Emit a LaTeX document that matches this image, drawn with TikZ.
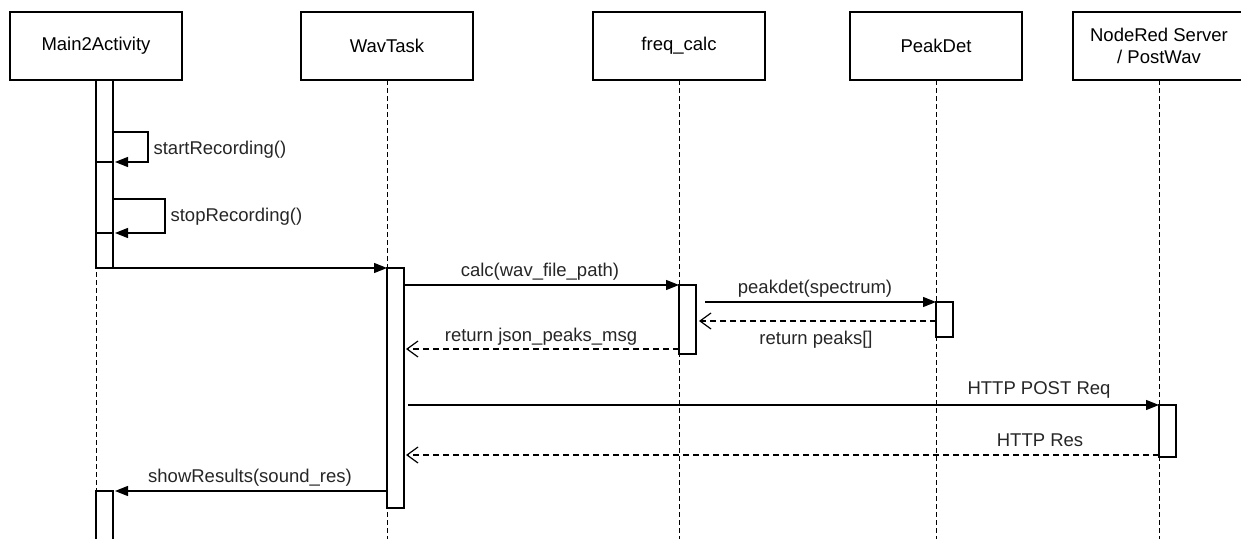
\documentclass[tikz,border=0pt]{standalone}
\usepackage{fontspec}
\setmainfont{Liberation Sans}
\usetikzlibrary{arrows.meta,calc}

\begin{document}
\begin{tikzpicture}[x=1pt,y=-1pt,
  font=\fontsize{18.5}{22}\selectfont,
  line width=1.2pt,
  actor/.style={draw, fill=white, minimum width=172pt, minimum height=68pt,
    align=center, inner sep=0pt, outer sep=0pt},
  act/.style={draw, fill=white, minimum width=17pt, inner sep=0pt, outer sep=0pt,
    anchor=north west},
  life/.style={dash pattern=on 5pt off 3pt, line width=1pt},
  call/.style={-{Triangle[length=13pt,width=10pt]}},
  ret/.style={dash pattern=on 6pt off 4pt, -{Straight Barb[length=11pt,width=16pt]}},
  lbl/.style={inner sep=0pt, text=black!85}
]
\useasboundingbox (0,0) rectangle (1241,538);

% participants
\node[actor] (ma) at (96,46)  {Main2Activity};
\node[actor] (wt) at (387,46) {WavTask};
\node[actor] (fc) at (679,46) {freq\_calc};
\node[actor] (pd) at (936,46) {PeakDet};
\node[actor] (nr) at (1159,46) {NodeRed Server\\/ PostWav};

% lifelines
\coordinate (bot) at (0,545);
\foreach \p in {ma,wt,fc,pd,nr}
  \draw[life] (\p.south) -- (\p.south |- bot);

% activation bars
\node[act, minimum height=188pt] (mab) at (96,80)   {};
\node[act, minimum height=60pt]  (mab2) at (96,491) {};
\node[act, minimum height=240pt] (wtb) at (387,268) {};
\node[act, minimum height=69pt]  (fcb) at (679,285) {};
\node[act, minimum height=35pt]  (pdb) at (936,302) {};
\node[act, minimum height=52pt]  (nrb) at (1159,405) {};

% message rows
\coordinate (y1a) at (0,132);
\coordinate (y1b) at (0,162);
\coordinate (y2a) at (0,199);
\coordinate (y2b) at (0,233);
\coordinate (yret1) at (0,321);
\coordinate (yret2) at (0,349);
\coordinate (yhttp) at (0,455);

% self calls on Main2Activity
\coordinate (s1) at (148,0);
\coordinate (s2) at (165,0);
\draw (mab.west |- y1b) -- (mab.east |- y1b);
\draw (mab.west |- y2b) -- (mab.east |- y2b);
\draw[call] (mab.east |- y1a) -- (s1 |- y1a) -- (s1 |- y1b) -- ([xshift=2pt]mab.east |- y1b);
\draw[call] (mab.east |- y2a) -- (s2 |- y2a) -- (s2 |- y2b) -- ([xshift=2pt]mab.east |- y2b);
\node[lbl, anchor=west] at (153,150) {startRecording()};
\node[lbl, anchor=west] at (170,217) {stopRecording()};

% calls and returns
\draw[call] (mab.south west) -- (wtb.north west);

\draw[call] (wtb.east |- fcb.north) -- (fcb.north west);
\node[lbl] at (540,272) {calc(wav\_file\_path)};

\draw[call] ([xshift=9pt]fcb.east |- pdb.north) -- (pdb.north west);
\node[lbl] at (815,289) {peakdet(spectrum)};

\draw[ret] (pdb.west |- yret1) -- ([xshift=3pt]fcb.east |- yret1);
\node[lbl] at (816,340) {return peaks[]};

\draw[ret] (fcb.west |- yret2) -- ([xshift=2pt]wtb.east |- yret2);
\node[lbl] at (541,337) {return json\_peaks\_msg};

\draw[call] ([xshift=4pt]wtb.east |- nrb.north) -- (nrb.north west);
\node[lbl] at (1039,390) {HTTP POST Req};

\draw[ret] (nrb.west |- yhttp) -- ([xshift=2pt]wtb.east |- yhttp);
\node[lbl] at (1040,440) {HTTP Res};

\draw[call] (wtb.west |- mab2.north) -- ([xshift=2pt]mab2.north east);
\node[lbl] at (250,478) {showResults(sound\_res)};
\end{tikzpicture}
\end{document}
